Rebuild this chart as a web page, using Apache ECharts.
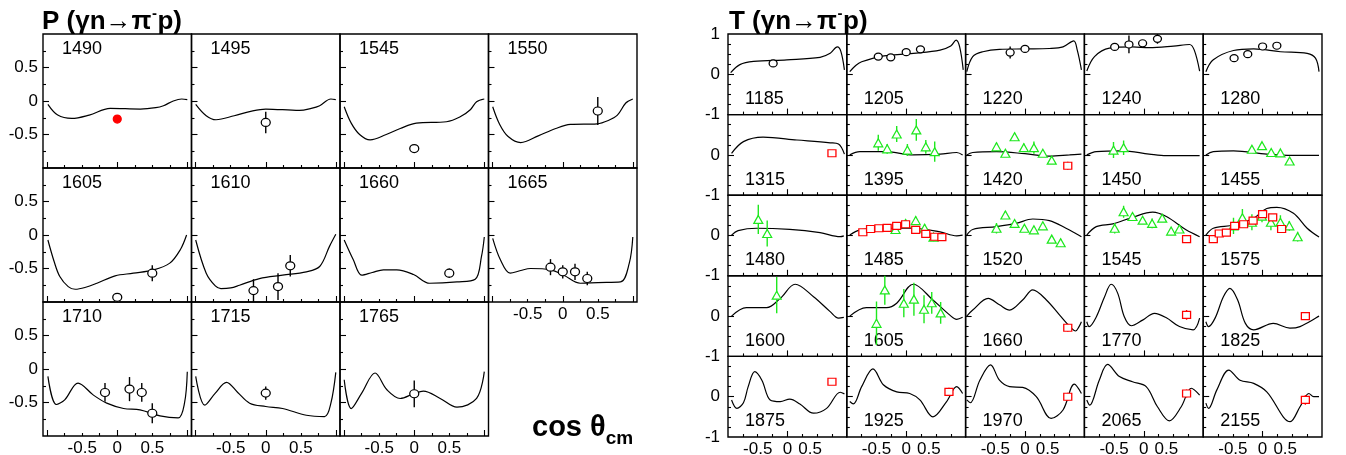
<!DOCTYPE html>
<html>
<head>
<meta charset="utf-8">
<script src="https://cdn.jsdelivr.net/npm/echarts@6/dist/echarts.min.js"></script>
<style>
  html, body { margin: 0; padding: 0; background: #fff; }
  #chart { width: 1346px; height: 455px; }
</style>
</head>
<body>
<div id="chart"></div>
<script>
// ---------- P (gamma n -> pi- p): energies, model curves, measured points ----------
const pEnergies = [1490, 1495, 1545, 1550, 1605, 1610, 1660, 1665, 1710, 1715, 1765];

const pCurves = [
  [[-0.99,-0.05],[-0.85,-0.21],[-0.65,-0.26],[-0.4,-0.21],[-0.1,-0.11],[0.33,-0.12],[0.55,-0.1],[0.66,-0.07],[0.8,0.0],[0.92,0.03],[1.0,0.02]],
  [[-1.0,-0.05],[-0.85,-0.22],[-0.71,-0.28],[-0.45,-0.22],[-0.2,-0.15],[0,-0.12],[0.48,-0.14],[0.65,-0.11],[0.77,-0.07],[0.93,0.03],[1.0,0.02]],
  [[-1.0,-0.085],[-0.9,-0.33],[-0.78,-0.5],[-0.63,-0.58],[-0.4,-0.5],[-0.2,-0.41],[0.03,-0.33],[0.46,-0.31],[0.65,-0.24],[0.8,-0.13],[0.89,-0.01],[1.0,0.03]],
  [[-1.0,-0.085],[-0.9,-0.35],[-0.78,-0.53],[-0.6,-0.62],[-0.35,-0.52],[-0.1,-0.41],[0.11,-0.35],[0.49,-0.34],[0.65,-0.29],[0.78,-0.21],[0.9,-0.03],[1.0,0.03]],
  [[-0.99,-0.075],[-0.9,-0.4],[-0.82,-0.62],[-0.7,-0.77],[-0.6,-0.81],[-0.45,-0.78],[-0.29,-0.72],[-0.03,-0.61],[0.23,-0.57],[0.52,-0.52],[0.75,-0.42],[0.9,-0.22],[0.99,0.0]],
  [[-1.0,-0.075],[-0.85,-0.57],[-0.72,-0.76],[-0.64,-0.8],[-0.5,-0.79],[-0.375,-0.75],[-0.09,-0.65],[0.24,-0.6],[0.58,-0.55],[0.77,-0.47],[0.91,-0.17],[1.0,0.01]],
  [[-1.0,-0.075],[-0.87,-0.37],[-0.75,-0.6],[-0.6,-0.56],[-0.44,-0.52],[-0.25,-0.52],[-0.01,-0.59],[0.22,-0.72],[0.61,-0.7],[0.87,-0.66],[0.96,-0.32],[1.0,-0.03]],
  [[-1.0,-0.05],[-0.89,-0.37],[-0.75,-0.57],[-0.6,-0.53],[-0.46,-0.5],[-0.175,-0.52],[0.015,-0.6],[0.25,-0.72],[0.5,-0.71],[0.825,-0.7],[0.95,-0.42],[1.0,-0.03]],
  [[-0.99,-0.11],[-0.87,-0.53],[-0.75,-0.46],[-0.56,-0.21],[-0.34,-0.39],[-0.15,-0.51],[0.09,-0.59],[0.325,-0.61],[0.61,-0.7],[0.87,-0.73],[0.96,-0.51],[1.0,-0.04]],
  [[-1.0,-0.11],[-0.87,-0.54],[-0.72,-0.36],[-0.56,-0.2],[-0.4,-0.35],[-0.23,-0.51],[0.0,-0.56],[0.24,-0.59],[0.58,-0.69],[0.84,-0.71],[0.93,-0.51],[1.0,-0.05]],
  [[-1.0,-0.16],[-0.9,-0.59],[-0.75,-0.36],[-0.56,-0.06],[-0.39,-0.31],[-0.2,-0.44],[-0.01,-0.37],[0.13,-0.33],[0.37,-0.44],[0.61,-0.57],[0.89,-0.44],[1.0,-0.04]]
];

// [cos theta, P, error]
const pOpenPoints = [
  [],
  [[0,-0.32,0.16]],
  [[0,-0.71,0.05]],
  [[0.5,-0.15,0.21]],
  [[0,-0.93,0.06],[0.5,-0.57,0.12]],
  [[-0.175,-0.83,0.17],[0.175,-0.77,0.2],[0.35,-0.46,0.16]],
  [[0.5,-0.57,0.07]],
  [[-0.175,-0.48,0.12],[0,-0.55,0.1],[0.175,-0.55,0.12],[0.35,-0.65,0.1]],
  [[-0.175,-0.35,0.14],[0.175,-0.3,0.18],[0.35,-0.35,0.14],[0.5,-0.66,0.15]],
  [[0,-0.36,0.1]],
  [[0,-0.37,0.2]]
];
const pFilledPoints = [
  [[0,-0.27,0.02]], [], [], [], [], [], [], [], [], [], []
];

// ---------- T (gamma n -> pi- p) ----------
const tEnergies = [1185, 1205, 1220, 1240, 1280,
                   1315, 1395, 1420, 1450, 1455,
                   1480, 1485, 1520, 1545, 1575,
                   1600, 1605, 1660, 1770, 1825,
                   1875, 1925, 1970, 2065, 2155];

const tCurves = [
  [[-0.955,0.04],[-0.8,0.24],[-0.57,0.32],[-0.01,0.36],[0.55,0.42],[0.72,0.52],[0.84,0.68],[0.9,0.57],[0.96,0.11]],
  [[-0.95,0.065],[-0.85,0.22],[-0.75,0.31],[-0.44,0.44],[0.12,0.52],[0.57,0.6],[0.75,0.7],[0.84,0.85],[0.9,0.68],[0.96,0.11]],
  [[-0.98,0.065],[-0.88,0.44],[-0.71,0.56],[-0.43,0.62],[0.0,0.63],[0.41,0.64],[0.64,0.68],[0.82,0.83],[0.88,0.6],[0.95,0.11]],
  [[-0.96,0.08],[-0.83,0.44],[-0.58,0.65],[-0.19,0.68],[0.09,0.66],[0.5,0.7],[0.77,0.74],[0.85,0.6],[0.94,0.08]],
  [[-0.955,0.065],[-0.83,0.36],[-0.49,0.59],[-0.15,0.63],[0.3,0.56],[0.75,0.52],[0.89,0.4],[0.95,0.065]],
  [[-0.94,0.04],[-0.74,0.33],[-0.41,0.44],[0.16,0.37],[0.72,0.3],[0.86,0.27],[0.96,0.02]],
  [[-0.95,0.0],[-0.78,0.08],[-0.33,0.08],[0.12,0.0],[0.57,0.02],[0.85,0.06],[0.95,0.0]],
  [[-0.98,0.0],[-0.88,0.06],[-0.48,0.08],[0.0,0.03],[0.41,-0.03],[0.75,0.0],[0.95,0.02]],
  [[-0.96,0.0],[-0.8,0.08],[-0.36,0.1],[0.09,0.02],[0.38,-0.02],[0.94,-0.02]],
  [[-0.955,0.0],[-0.83,0.08],[-0.49,0.1],[0.07,0.02],[0.52,-0.01],[0.95,-0.01]],
  [[-0.94,0.01],[-0.83,0.12],[-0.52,0.18],[0.04,0.15],[0.55,0.07],[0.89,-0.03],[0.95,-0.01]],
  [[-0.95,0.01],[-0.78,0.14],[-0.44,0.18],[0.12,0.18],[0.57,0.09],[0.85,-0.01],[0.95,0.01]],
  [[-0.98,0.01],[-0.88,0.15],[-0.48,0.22],[-0.15,0.3],[0.13,0.41],[0.41,0.37],[0.69,0.18],[0.95,-0.03]],
  [[-0.96,0.01],[-0.8,0.22],[-0.52,0.29],[-0.19,0.45],[0.15,0.58],[0.38,0.47],[0.71,0.14],[0.94,-0.03]],
  [[-0.955,0.01],[-0.83,0.18],[-0.49,0.26],[-0.15,0.43],[0.07,0.67],[0.24,0.7],[0.52,0.55],[0.75,0.18],[0.95,-0.04]],
  [[-0.94,0.0],[-0.69,0.21],[-0.35,0.21],[-0.12,0.44],[0.13,0.79],[0.44,0.48],[0.72,0.11],[0.86,-0.05],[0.95,-0.03]],
  [[-0.95,0.0],[-0.67,0.21],[-0.33,0.21],[-0.16,0.32],[0.12,0.79],[0.45,0.4],[0.73,0.03],[0.85,-0.08],[0.95,-0.03]],
  [[-0.98,0.0],[-0.88,0.15],[-0.62,0.44],[-0.43,0.28],[-0.26,0.15],[-0.04,0.4],[0.13,0.65],[0.36,0.4],[0.58,0.03],[0.78,-0.3],[0.85,-0.37],[0.91,-0.26],[0.95,-0.14]],
  [[-0.96,-0.14],[-0.92,-0.26],[-0.8,-0.02],[-0.66,0.48],[-0.55,0.79],[-0.44,0.57],[-0.33,-0.01],[-0.21,-0.24],[-0.02,-0.1],[0.18,0.07],[0.38,-0.04],[0.6,-0.26],[0.83,-0.34],[0.94,-0.05]],
  [[-0.955,-0.14],[-0.91,-0.26],[-0.8,-0.05],[-0.66,0.48],[-0.55,0.69],[-0.42,0.4],[-0.29,-0.18],[-0.15,-0.34],[0.18,-0.18],[0.46,-0.3],[0.63,-0.26],[0.95,0.0]],
  [[-0.94,-0.08],[-0.85,-0.29],[-0.74,-0.15],[-0.66,0.25],[-0.55,0.62],[-0.43,0.41],[-0.29,-0.08],[-0.12,-0.12],[0.04,-0.06],[0.21,-0.18],[0.44,-0.41],[0.66,-0.29],[0.89,0.11],[0.96,0.07]],
  [[-0.95,-0.12],[-0.89,-0.18],[-0.75,0.25],[-0.56,0.69],[-0.38,0.29],[-0.16,0.12],[0.06,0.08],[0.23,-0.08],[0.45,-0.5],[0.68,-0.12],[0.85,0.25],[0.95,0.08]],
  [[-0.98,-0.08],[-0.92,-0.15],[-0.76,0.41],[-0.58,0.79],[-0.43,0.41],[-0.26,0.25],[-0.04,0.23],[0.19,0.0],[0.44,-0.54],[0.64,-0.33],[0.83,0.31],[0.95,0.08]],
  [[-0.96,-0.08],[-0.91,-0.21],[-0.75,0.41],[-0.61,0.8],[-0.41,0.5],[-0.19,0.37],[0.04,0.25],[0.23,-0.25],[0.43,-0.6],[0.63,-0.25],[0.8,0.21],[0.94,0.04]],
  [[-0.955,-0.16],[-0.91,-0.29],[-0.77,0.17],[-0.57,0.66],[-0.38,0.41],[-0.15,0.33],[0.07,0.12],[0.465,-0.62],[0.63,-0.25],[0.78,0.08],[0.86,0.0],[0.95,0.0]]
];

// [cos theta, T, error]
const tCircles = [
  [[-0.24,0.27,0.03]],
  [[-0.47,0.44,0.03],[-0.26,0.42,0.05],[0,0.55,0.08],[0.24,0.62,0.04]],
  [[-0.25,0.54,0.15],[0,0.63,0.07]],
  [[-0.49,0.68,0.05],[-0.25,0.74,0.22],[-0.02,0.77,0.05],[0.23,0.88,0.12]],
  [[-0.48,0.4,0.03],[-0.25,0.5,0.04],[0,0.69,0.03],[0.24,0.71,0.04]],
  [],[],[],[],[],[],[],[],[],[],[],[],[],[],[],[],[],[],[],[]
];

const tTriangles = [
  [],[],[],[],[],
  [],
  [[-0.47,0.3,0.2],[-0.32,0.15,0.12],[-0.16,0.52,0.2],[0.02,0.12,0.15],[0.17,0.62,0.27],[0.33,0.2,0.17],[0.48,0.08,0.25]],
  [[-0.48,0.2,0.1],[-0.33,0.04,0.08],[-0.175,0.45,0.1],[-0.02,0.18,0.1],[0.15,0.18,0.15],[0.3,0.04,0.08],[0.45,-0.13,0.08]],
  [[-0.51,0.12,0.2],[-0.34,0.18,0.18]],
  [[-0.18,0.14,0.07],[-0.01,0.23,0.07],[0.145,0.06,0.07],[0.3,0.05,0.07],[0.455,-0.15,0.05]],
  [[-0.49,0.4,0.36],[-0.34,0.05,0.32]],
  [[-0.18,0.15,0.1],[-0.01,0.3,0.1],[0.16,0.37,0.1],[0.31,0.18,0.1],[0.46,-0.04,0.1]],
  [[-0.48,0.18,0.13],[-0.33,0.51,0.1],[-0.175,0.3,0.05],[-0.01,0.18,0.05],[0.15,0.14,0.08],[0.3,0.24,0.07],[0.45,-0.09,0.06],[0.6,-0.18,0.1]],
  [[-0.49,0.18,0.13],[-0.34,0.59,0.15],[-0.19,0.47,0.08],[-0.02,0.38,0.06],[0.14,0.3,0.12],[0.31,0.43,0.08],[0.46,0.11,0.08],[0.6,0.16,0.08]],
  [[-0.49,0.24,0.2],[-0.34,0.44,0.22],[-0.18,0.33,0.2],[-0.01,0.48,0.15],[0.14,0.33,0.2],[0.3,0.33,0.17],[0.45,0.24,0.12],[0.59,-0.03,0.12]],
  [[-0.18,0.52,0.45]],
  [[-0.5,-0.18,0.54],[-0.36,0.65,0.37],[-0.04,0.32,0.35],[0.13,0.42,0.41],[0.3,0.17,0.35],[0.43,0.33,0.27],[0.58,0.08,0.27]],
  [],[],[],[],[],[],[],[]
];

const tSquares = [
  [],[],[],[],[],
  [[0.75,0.04,0.08]],
  [],
  [[0.72,-0.27,0.1]],
  [],[],
  [],
  [[-0.73,0.08,0.03],[-0.6,0.16,0.03],[-0.46,0.18,0.03],[-0.32,0.19,0.03],[-0.16,0.24,0.03],[-0.01,0.28,0.03],[0.16,0.14,0.03],[0.33,0.04,0.03],[0.48,-0.03,0.03],[0.6,-0.04,0.03]],
  [],
  [[0.72,-0.09,0.08]],
  [[-0.83,-0.09,0.03],[-0.73,0.05,0.03],[-0.61,0.07,0.03],[-0.47,0.24,0.03],[-0.32,0.28,0.03],[-0.16,0.37,0.03],[0,0.53,0.03],[0.17,0.45,0.03],[0.32,0.16,0.03]],
  [],[],
  [[0.72,-0.29,0.1]],
  [[0.72,0.03,0.12]],
  [[0.72,0.0,0.03]],
  [[0.75,0.37,0.05]],
  [[0.72,0.12,0.1]],
  [[0.72,0.0,0.1]],
  [[0.72,0.08,0.1]],
  [[0.72,-0.08,0.12]]
];

// ---------- tick / label values ----------
const pXMajorTicks = [-1, 0, 1];
const pXMinorTicks = [-0.75, -0.5, -0.25, 0.25, 0.5, 0.75];
const pXLabels = [-0.5, 0, 0.5];
const pYMajorTicks = [-0.5, 0, 0.5];
const pYMinorTicks = [-0.75, -0.25, 0.25, 0.75];
const pYLabels = [-0.5, 0, 0.5];

const tXMajorTicks = [0];
const tXMinorTicks = [-0.75, -0.5, -0.25, 0.25, 0.5, 0.75];
const tXLabels = [-0.5, 0, 0.5];
const tYMajorTicks = [0];
const tYMinorTicks = [-0.75, -0.5, -0.25, 0.25, 0.5, 0.75];
const tYLabelsTop = [-1, 0, 1];
const tYLabels = [-1, 0];

// ---------- building blocks ----------
const FONT = '"Liberation Sans", Arial, Helvetica, sans-serif';
const grids = [], xAxes = [], yAxes = [], series = [], graphics = [];

function makeAxis(gridIndex, dir, range, ticks, labels, len, margin, formatter) {
  return {
    gridIndex, type: 'value', min: range[0], max: range[1],
    position: dir === 'x' ? 'bottom' : 'left',
    axisLine: { show: false, onZero: false },
    splitLine: { show: false },
    minorTick: { show: false },
    axisTick: { show: true, inside: true, length: len, customValues: ticks,
                lineStyle: { color: '#000', width: 1.1 } },
    axisLabel: { show: labels.length > 0, customValues: labels, color: '#000',
                 fontFamily: FONT, fontSize: 17, margin: margin || 4,
                 formatter: formatter || (v => String(v)) }
  };
}

function addPanel(c) {
  const g = grids.length;
  grids.push({ left: c.left, top: c.top, width: c.width, height: c.height,
               show: true, borderColor: '#000', borderWidth: 1.4,
               backgroundColor: 'rgba(0,0,0,0)', containLabel: false, outerBoundsMode: 'none' });
  const xi = xAxes.length, yi = yAxes.length;
  xAxes.push(makeAxis(g, 'x', c.xr, c.xMajor, c.xLabels, 6, 4, c.xFormatter));
  xAxes.push(makeAxis(g, 'x', c.xr, c.xMinor, [], 3));
  yAxes.push(makeAxis(g, 'y', c.yr, c.yMajor, c.yLabels, 6, c.yMargin));
  yAxes.push(makeAxis(g, 'y', c.yr, c.yMinor, [], 3));
  return { xi, yi };
}

function addCurve(ax, data) {
  series.push({ type: 'line', xAxisIndex: ax.xi, yAxisIndex: ax.yi, data,
                smooth: 0.35, symbol: 'none', silent: true, clip: true, z: 2,
                lineStyle: { color: '#000', width: 1.2 } });
}

function errorBars(color) {
  return function (params, api) {
    const x = api.value(0), y = api.value(1), e = api.value(2);
    const a = api.coord([x, y + e]), b = api.coord([x, y - e]);
    return { type: 'line', shape: { x1: a[0], y1: a[1], x2: b[0], y2: b[1] },
             style: { stroke: color, lineWidth: 1.4 } };
  };
}

const markerStyles = {
  open:     { symbol: 'circle',   size: [9, 8], fill: '#fff', stroke: '#000', bar: '#000' },
  openT:    { symbol: 'circle',   size: [8, 7], fill: '#fff', stroke: '#000', bar: '#000' },
  filled:   { symbol: 'circle',   size: [8, 8], fill: '#f00', stroke: '#f00', bar: '#f00' },
  triangle: { symbol: 'triangle', size: [9, 8], fill: '#fff', stroke: '#1ee81e', bar: '#1ee81e' },
  square:   { symbol: 'rect',     size: [8, 7], fill: '#fff', stroke: '#f00', bar: '#f00' }
};

function addPoints(ax, data, kind) {
  if (!data.length) return;
  const m = markerStyles[kind];
  series.push({ type: 'custom', xAxisIndex: ax.xi, yAxisIndex: ax.yi, data,
                renderItem: errorBars(m.bar), clip: true, silent: true, z: 3 });
  series.push({ type: 'scatter', xAxisIndex: ax.xi, yAxisIndex: ax.yi,
                data: data.map(p => [p[0], p[1]]), symbol: m.symbol, symbolSize: m.size,
                silent: true, z: 4,
                itemStyle: { color: m.fill, borderColor: m.stroke, borderWidth: 1.2, opacity: 1 } });
}

function addText(x, y, text, size, bold) {
  graphics.push({ type: 'text', x, y, silent: true,
                  style: { text, fontSize: size, fontWeight: bold ? 'bold' : 'normal',
                           fontFamily: FONT, fill: '#000', verticalAlign: 'middle' } });
}

// ---------- P grid: 4 columns x 3 rows ----------
const P_LEFT = 43, P_TOP = 34, P_W = 148.5, P_H = 134, P_XR = [-1.06, 1.06];
pEnergies.forEach((E, i) => {
  const r = Math.floor(i / 4), c = i % 4;
  const left = P_LEFT + c * P_W, top = P_TOP + r * P_H;
  const ax = addPanel({
    left, top, width: P_W, height: P_H, xr: P_XR, yr: [-1, 1],
    xMajor: pXMajorTicks, xMinor: pXMinorTicks,
    xLabels: (i + 4 >= pEnergies.length) ? pXLabels : [],
    yMajor: pYMajorTicks, yMinor: pYMinorTicks,
    yLabels: c === 0 ? pYLabels : [], yMargin: 5
  });
  addCurve(ax, pCurves[i]);
  addPoints(ax, pOpenPoints[i], 'open');
  addPoints(ax, pFilledPoints[i], 'filled');
  addText(left + 19, top + 15, String(E), 18);
});

// ---------- T grid: 5 columns x 5 rows ----------
const T_LEFT = 728, T_TOP = 34, T_W = 118.8, T_H = 80.6;
// the "0.5" label of the T panels sits a little left of its tick
const tXFormatter = v => (v === 0.5 ? '0.5   ' : String(v));
tEnergies.forEach((E, i) => {
  const r = Math.floor(i / 5), c = i % 5;
  const left = T_LEFT + c * T_W, top = T_TOP + r * T_H;
  const ax = addPanel({
    left, top, width: T_W, height: T_H, xr: [-1, 1], yr: [-1, 1],
    xMajor: tXMajorTicks, xMinor: tXMinorTicks,
    xLabels: r === 4 ? tXLabels : [], xFormatter: tXFormatter,
    yMajor: tYMajorTicks, yMinor: tYMinorTicks,
    yLabels: c === 0 ? (r === 0 ? tYLabelsTop : tYLabels) : [], yMargin: 8
  });
  addCurve(ax, tCurves[i]);
  addPoints(ax, tCircles[i], 'openT');
  addPoints(ax, tTriangles[i], 'triangle');
  addPoints(ax, tSquares[i], 'square');
  addText(left + 17, top + 65, String(E), 18);
});

// ---------- titles ----------
const measureCtx = document.createElement('canvas').getContext('2d');
function textWidth(str, size, bold) {
  measureCtx.font = (bold ? 'bold ' : '') + size + 'px ' + FONT;
  return measureCtx.measureText(str).width;
}

function reactionTitle(x, letter) {
  const head = letter + ' (γn→π';
  const w1 = textWidth(head, 26, true);
  addText(x, 22, head, 26, true);
  addText(x + w1 + 0.5, 14, '-', 15, true);
  addText(x + w1 + 1 + textWidth('-', 15, true), 22, 'p)', 26, true);
}
reactionTitle(42, 'P');
reactionTitle(729, 'T');

const axisHead = 'cos θ';
addText(532, 428, axisHead, 29, true);
addText(532 + textWidth(axisHead, 29, true), 439, 'cm', 19, true);

const chart = echarts.init(document.getElementById('chart'), null, { renderer: 'canvas' });
chart.setOption({
  backgroundColor: '#fff',
  animation: false,
  grid: grids,
  xAxis: xAxes,
  yAxis: yAxes,
  series,
  graphic: graphics
});
</script>
</body>
</html>
